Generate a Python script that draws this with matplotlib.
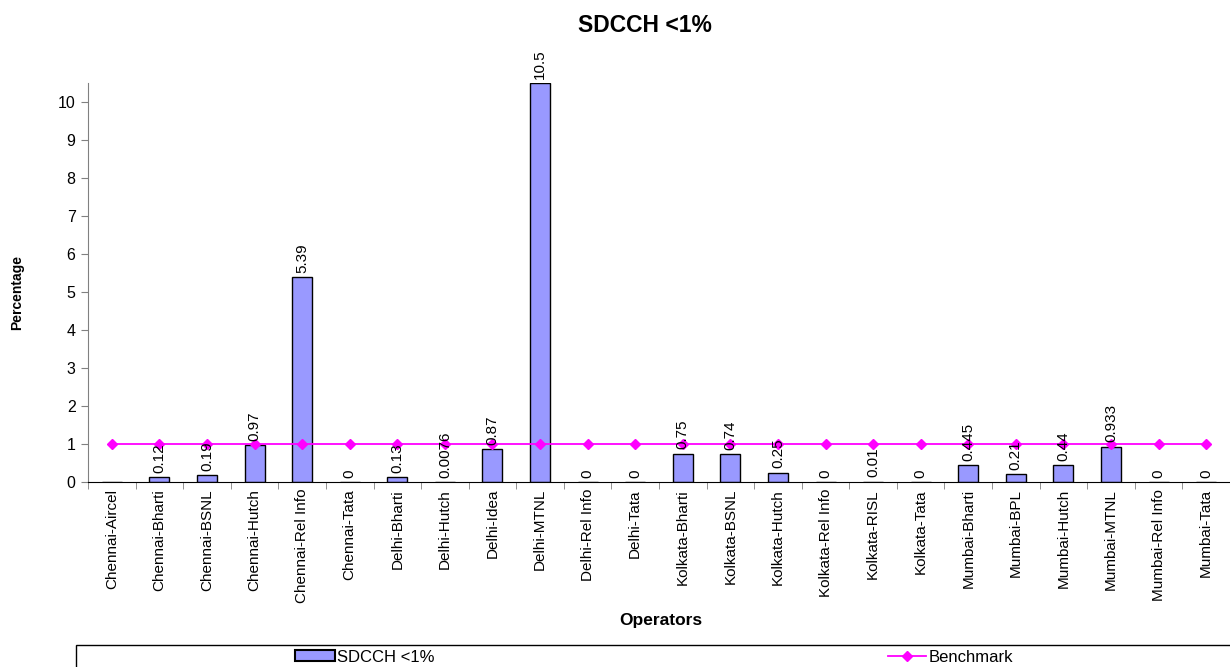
import numpy as np
import matplotlib
matplotlib.use("Agg")
import matplotlib.pyplot as plt
from matplotlib.patches import Rectangle
from matplotlib.lines import Line2D

plt.rcParams['font.family'] = ['Liberation Sans', 'DejaVu Sans']

operators = [
    "Chennai-Aircel", "Chennai-Bharti", "Chennai-BSNL", "Chennai-Hutch",
    "Chennai-Rel Info", "Chennai-Tata", "Delhi-Bharti", "Delhi-Hutch",
    "Delhi-Idea", "Delhi-MTNL", "Delhi-Rel Info", "Delhi-Tata",
    "Kolkata-Bharti", "Kolkata-BSNL", "Kolkata-Hutch", "Kolkata-Rel Info",
    "Kolkata-RISL", "Kolkata-Tata", "Mumbai-Bharti", "Mumbai-BPL",
    "Mumbai-Hutch", "Mumbai-MTNL", "Mumbai-Rel Info", "Mumbai-Tata",
]
sdcch = [np.nan, 0.12, 0.19, 0.97, 5.39, 0, 0.13, 0.0076, 0.87, 10.5, 0, 0,
         0.75, 0.74, 0.25, 0, 0.01, 0, 0.445, 0.21, 0.44, 0.933, 0, 0]
benchmark = [1] * len(operators)

fig = plt.figure(figsize=(12.3, 6.67), dpi=100)
ax = fig.add_axes([88 / 1230, 1 - 482 / 667, 1 - 88 / 1230, (482 - 83) / 667])

x = np.arange(len(operators))
vals = np.array(sdcch, dtype=float)
ax.bar(x, np.nan_to_num(vals), width=0.42, color="#9999FF",
       edgecolor="black", linewidth=1.0, zorder=2)
for xi, v in zip(x, vals):
    if np.isnan(v):
        continue
    ax.annotate(f"{v:g}", (xi, v), xytext=(0, 3), textcoords="offset points",
                rotation=90, ha="center", va="bottom", fontsize=11, zorder=4)

ax.plot(x, benchmark, color="#FF00FF", linewidth=1.3, marker="D",
        markersize=5.5, zorder=3)

ax.set_xlim(-0.5, len(operators) - 0.5)
ax.set_ylim(0, 10.5)
ax.set_yticks(range(0, 11))
ax.tick_params(axis="y", labelsize=11.5, direction="out", length=5,
               color="#808080", pad=4)
ax.set_xticks(x)
ax.set_xticklabels(operators, rotation=90, fontsize=11)
ax.tick_params(axis="x", length=0, pad=5)
ax.set_xticks(np.arange(len(operators) + 1) - 0.5, minor=True)
ax.tick_params(axis="x", which="minor", length=5, direction="out", color="#808080")

for s in ("top", "right"):
    ax.spines[s].set_visible(False)
ax.spines["left"].set_color("#808080")
ax.spines["bottom"].set_color("black")

fig.text(645 / 1230, 1 - 26 / 667, "SDCCH <1%", ha="center", va="center",
         fontsize=16.5, fontweight="bold")
fig.text(661 / 1230, 1 - 620 / 667, "Operators", ha="center", va="center",
         fontsize=12.5, fontweight="bold")
fig.text(17 / 1230, 1 - 292 / 667, "Percentage", ha="center", va="center",
         rotation=90, fontsize=10, fontweight="bold")

# legend frame along the bottom edge
fig.patches.append(Rectangle((76 / 1230, -0.02), 1.0, 0.02 + 22 / 667,
                             transform=fig.transFigure, fill=False,
                             edgecolor="black", linewidth=1.0))
bar_handle = Rectangle((0, 0), 1, 1, facecolor="#9999FF", edgecolor="black",
                       linewidth=1.5)
line_handle = Line2D([], [], color="#FF00FF", marker="D", markersize=5.5,
                     linewidth=1.3)
fig.legend([bar_handle], ["SDCCH <1%"], loc="center left",
           bbox_to_anchor=(295 / 1230, 1 - 657 / 667), frameon=False,
           fontsize=12, handlelength=2.4, handleheight=0.6, handletextpad=0.1,
           borderpad=0, borderaxespad=0)
fig.legend([line_handle], ["Benchmark"], loc="center left",
           bbox_to_anchor=(888 / 1230, 1 - 657 / 667), frameon=False,
           fontsize=12, handlelength=2.3, handletextpad=0.15,
           borderpad=0, borderaxespad=0)

fig.savefig("out.png", dpi=100)
